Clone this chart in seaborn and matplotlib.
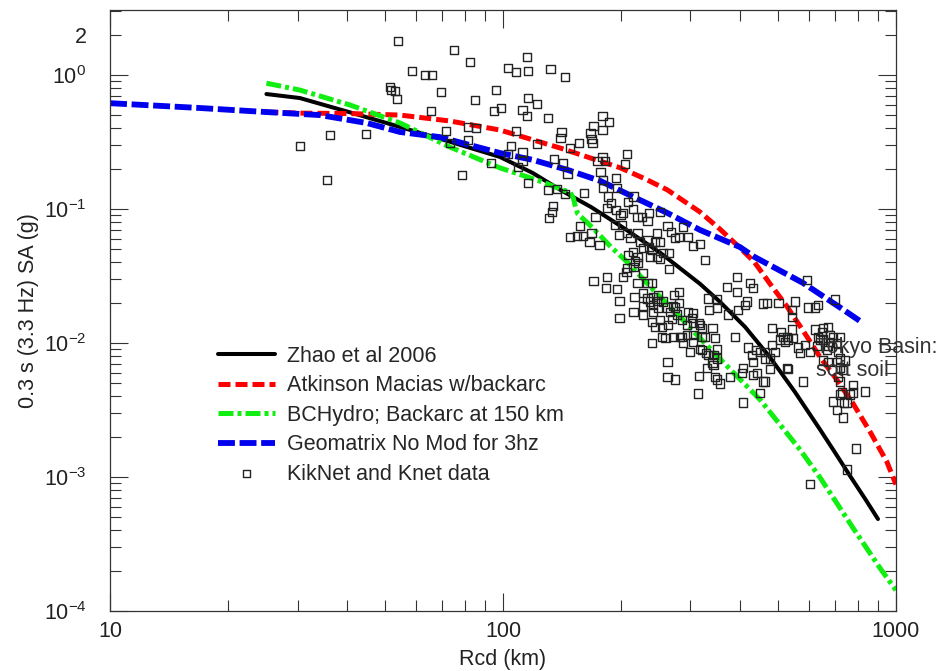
"""
Response spectra (0.3 s) vs rupture distance: GMPE curves against KikNet/Knet records.
Saves out.png.
"""

import matplotlib
matplotlib.use("Agg")
import matplotlib.pyplot as plt
from matplotlib.ticker import LogLocator, FuncFormatter, NullFormatter
import seaborn as sns

# ---- model curves (Rcd in km, SA in g) ----
zhao_rcd = [25, 30.4, 40.8, 54.7, 73.3, 98.2, 119, 140, 168, 199, 251, 317, 356, 413,
            478, 553, 641, 699, 764, 834, 900]
zhao_sa = [0.722, 0.674, 0.527, 0.410, 0.318, 0.245, 0.186, 0.139, 0.103, 0.0749,
           0.0473, 0.0277, 0.0204, 0.0132, 0.00783, 0.00432, 0.00226, 0.00153, 0.00102,
           0.00069, 0.000486]

atk_rcd = [25, 30.4, 40.8, 54.7, 73.3, 98.2, 140, 199, 230, 262, 317, 356, 401, 436, 478,
           529, 580, 641, 707, 778, 859, 948, 1000]
atk_sa = [0.530, 0.520, 0.516, 0.503, 0.454, 0.389, 0.285, 0.203, 0.168, 0.139, 0.0952,
          0.0711, 0.0513, 0.0403, 0.0277, 0.0186, 0.0124, 0.00785, 0.00533, 0.00353,
          0.00218, 0.00130, 0.00088]

bch_rcd = [25, 30.4, 40.8, 54.7, 73.3, 98.2, 124, 142, 148, 151, 153, 155, 164, 174, 188,
           207, 241, 282, 317, 356, 451, 570, 641, 778, 911, 1000]
bch_sa = [0.870, 0.773, 0.598, 0.439, 0.290, 0.203, 0.162, 0.139, 0.134, 0.121, 0.103,
          0.0920, 0.0790, 0.0664, 0.0523, 0.0403, 0.0250, 0.0157, 0.0109, 0.00765,
          0.00378, 0.00160, 0.00099, 0.000416, 0.000209, 0.000143]

geo_rcd = [10, 16.9, 24.9, 34.2, 45.0, 54.7, 69.2, 98.2, 119, 146, 177, 215, 262, 317,
           401, 436, 580, 721, 810]
geo_sa = [0.617, 0.568, 0.530, 0.503, 0.439, 0.376, 0.344, 0.262, 0.233, 0.196, 0.162,
          0.123, 0.0935, 0.0699, 0.0520, 0.0440, 0.0281, 0.0184, 0.0146]

# ---- recorded data (KikNet and Knet) ----
data_rcd = [
    30.4, 35.6, 36.3, 44.8, 51.6, 51.9, 53.1, 53.7, 54.1, 58.7, 63.3, 66.0, 65.6, 69.6,
    71.6, 73.3, 75.1, 78.7, 81.5, 81.5, 82.5, 84.9, 85.4, 93.2, 94.8, 96.0, 98.8, 103,
    103, 105, 108, 108, 109, 112, 112, 112, 115, 115, 116, 116, 116, 122, 122, 130, 130,
    131, 132, 133, 134, 135, 137, 140, 141, 142, 144, 144, 146, 148, 148, 154, 156, 157,
    160, 161, 166, 167, 168, 168, 169, 170, 170, 172, 174, 176, 177, 179, 179, 179, 180,
    180, 182, 183, 184, 184, 185, 186, 188, 193, 194, 194, 195, 195, 197, 198, 198,
    199, 201, 202, 202, 204, 207, 207, 206, 207, 208, 208, 211, 214, 214, 215, 215, 215,
    216, 217, 220, 220, 220, 220, 221, 223, 226, 227, 227, 227, 227, 227, 233, 233, 233,
    233, 235, 235, 237, 237, 239, 239, 239, 239, 241, 241, 241, 244, 244, 247, 247, 247,
    248, 248, 251, 251, 251, 251, 254, 254, 255, 255, 259, 262, 262, 262, 262, 263, 265,
    265, 266, 268, 269, 271, 271, 272, 274, 274, 274, 277, 280, 280, 280, 282, 285, 285,
    287, 287, 294, 294, 296, 296, 299, 303, 305, 305, 305, 305, 305, 313, 315, 315, 317,
    317, 317, 321, 321, 321, 327, 327, 329, 331, 333, 333, 335, 341, 341, 343, 343, 347,
    347, 351, 351, 351, 351, 351, 356, 371, 374, 378, 389, 394, 394, 396, 406, 408, 408,
    413, 418, 420, 425, 433, 430, 433, 433, 441, 443, 451, 451, 459, 459, 464, 464, 464,
    470, 478, 478, 484, 484, 492, 502, 507, 510, 516, 522, 528, 528, 531, 531, 543, 543,
    543, 546, 553, 563, 570, 580, 587, 594, 597, 604, 604, 622, 622, 629, 633, 633, 641,
    649, 652, 652, 652, 668, 672, 672, 672, 679, 679, 691, 691, 699, 707, 707, 707, 712,
    712, 721, 721, 721, 721, 721, 729, 734, 734, 738, 742, 751, 751, 764, 778, 778, 792,
    834,
]
data_sa = [
    0.296, 0.165, 0.357, 0.363, 0.814, 0.773, 0.760, 0.662, 1.79, 1.07, 1.00, 1.00, 0.540,
    0.747, 0.382, 0.312, 1.54, 0.180, 0.410, 0.328, 1.25, 0.651, 0.403, 0.221, 0.540,
    0.773, 0.568, 0.257, 1.13, 0.296, 1.05, 0.382, 0.206, 0.549, 0.267, 0.229, 1.36,
    0.494, 0.674, 1.07, 0.156, 0.608, 0.306, 0.478, 0.139, 0.0859, 1.11, 0.0952, 0.105,
    0.237, 0.141, 0.340, 0.376, 0.221, 0.966, 0.130, 0.183, 0.286, 0.0620, 0.0631, 0.312,
    0.0749, 0.0631, 0.132, 0.0569, 0.370, 0.334, 0.0664, 0.312, 0.417, 0.0292, 0.0874,
    0.229, 0.0541, 0.189, 0.494, 0.389, 0.245, 0.165, 0.144, 0.229, 0.0259, 0.102,
    0.0312, 0.124, 0.447, 0.111, 0.0762, 0.171, 0.0985, 0.144, 0.0254, 0.0642, 0.0207,
    0.0154, 0.0904, 0.0762, 0.0935, 0.0312, 0.217, 0.257, 0.0664, 0.0340, 0.0364, 0.113,
    0.0455, 0.0610, 0.100, 0.0479, 0.124, 0.0371, 0.0171, 0.0220, 0.0410, 0.0872,
    0.0664, 0.0440, 0.0281, 0.0396, 0.0569, 0.0874, 0.0513, 0.0334, 0.0237, 0.0187,
    0.0163, 0.0816, 0.0589, 0.0281, 0.0215, 0.0935, 0.0523, 0.0440, 0.0204, 0.0496,
    0.0281, 0.0144, 0.0100, 0.0220, 0.0193, 0.0171, 0.0569, 0.0132, 0.0664, 0.0440,
    0.0207, 0.0184, 0.0229, 0.0952, 0.0569, 0.0426, 0.0149, 0.0132, 0.0111, 0.0470,
    0.0204, 0.0109, 0.0749, 0.0184, 0.00555, 0.00725, 0.0137, 0.0470, 0.0358, 0.0171,
    0.0676, 0.0152, 0.0190, 0.0111, 0.0229, 0.00533, 0.0610, 0.0184, 0.0163, 0.0620,
    0.0241, 0.0200, 0.0111, 0.0149, 0.0111, 0.0737, 0.0100, 0.0137, 0.0115, 0.0620,
    0.0171, 0.00859, 0.0154, 0.0532, 0.0168, 0.0141, 0.0115, 0.0102, 0.00419, 0.0141,
    0.00570, 0.0550, 0.0137, 0.00907, 0.0130, 0.0111, 0.00891, 0.0418, 0.0111, 0.00845,
    0.00654, 0.0215, 0.00818, 0.0177, 0.0130, 0.00714, 0.00818, 0.00689, 0.0109,
    0.00560, 0.0211, 0.0184, 0.00907, 0.00765, 0.00533, 0.00498, 0.0262, 0.0163,
    0.00555, 0.0111, 0.0312, 0.0241, 0.0177, 0.00600, 0.00654, 0.00359, 0.0193, 0.0204,
    0.00925, 0.0281, 0.0259, 0.00818, 0.00726, 0.00580, 0.00891, 0.00600, 0.00859,
    0.00426, 0.0197, 0.00515, 0.00859, 0.00765, 0.00515, 0.0200, 0.00765, 0.00643,
    0.0130, 0.00971, 0.00859, 0.0200, 0.0106, 0.0121, 0.0111, 0.0102, 0.0111, 0.00654,
    0.0106, 0.00643, 0.0177, 0.0157, 0.0126, 0.0109, 0.0204, 0.00925, 0.00845, 0.00515,
    0.00971, 0.0297, 0.0184, 0.00859, 0.00089, 0.0184, 0.0126, 0.00954, 0.0193, 0.0111,
    0.0106, 0.0121, 0.0130, 0.0106, 0.00739, 0.00891, 0.0132, 0.00954, 0.00726, 0.0115,
    0.0102, 0.0111, 0.00366, 0.0211, 0.0100, 0.00726, 0.00318, 0.00859, 0.00555, 0.0111,
    0.00765, 0.00654, 0.00515, 0.00412, 0.00428, 0.00632, 0.00278, 0.00359, 0.00739,
    0.00359, 0.00114, 0.00412, 0.00489, 0.00428, 0.00163, 0.00436,
]

FS = 15.5
INK = "#222222"

sns.set_theme(style="ticks")
plt.rcParams["font.family"] = ["Liberation Sans", "DejaVu Sans"]
plt.rcParams["mathtext.fontset"] = "custom"
plt.rcParams["mathtext.rm"] = "Liberation Sans"
plt.rcParams["mathtext.it"] = "Liberation Sans:italic"

fig = plt.figure(figsize=(9.47, 6.71), dpi=100)
ax = fig.add_axes([0.1162, 0.0894, 0.8299, 0.8957])
ax.set_xscale("log")
ax.set_yscale("log")

sns.lineplot(x=zhao_rcd, y=zhao_sa, color="black", linewidth=2.9,
             label="Zhao et al 2006", ax=ax)
sns.lineplot(x=atk_rcd, y=atk_sa, color="#ff0000", linewidth=3.6,
             linestyle=(0, (2.4, 1.0)), dash_capstyle="butt",
             label="Atkinson Macias w/backarc", ax=ax)
sns.lineplot(x=bch_rcd, y=bch_sa, color="#11ee11", linewidth=3.6,
             linestyle=(0, (3.0, 0.8, 0.8, 0.8)), dash_capstyle="butt",
             label="BCHydro; Backarc at 150 km", ax=ax)
sns.lineplot(x=geo_rcd, y=geo_sa, color="#0000ee", linewidth=4.2,
             linestyle=(0, (2.9, 0.8)), dash_capstyle="butt",
             label="Geomatrix No Mod for 3hz", ax=ax)
sns.scatterplot(x=data_rcd, y=data_sa, marker="s", s=36, facecolor="none",
                edgecolor=INK, linewidth=1.0, label="KikNet and Knet data",
                zorder=4, ax=ax)

ax.set_xlim(10, 1000)
ax.set_ylim(1e-4, 3.06)

ax.xaxis.set_major_locator(LogLocator(base=10))
ax.xaxis.set_minor_locator(LogLocator(base=10, subs=range(2, 10)))
ax.xaxis.set_major_formatter(FuncFormatter(lambda v, _: f"{v:g}"))
ax.xaxis.set_minor_formatter(NullFormatter())
ax.yaxis.set_minor_locator(LogLocator(base=10, subs=range(2, 10), numticks=20))
ax.yaxis.set_minor_formatter(FuncFormatter(lambda v, _: "2" if abs(v - 2) < 1e-6 else ""))

for side in ["top", "right", "bottom", "left"]:
    ax.spines[side].set_visible(True)
    ax.spines[side].set_color("#333333")
    ax.spines[side].set_linewidth(0.9)

ax.tick_params(which="both", direction="in", top=True, right=True,
               color="#333333", width=0.8, labelsize=FS, labelcolor=INK)
ax.tick_params(which="major", length=13)
ax.tick_params(which="minor", length=8)
ax.tick_params(axis="y", which="both", pad=17)
ax.tick_params(axis="x", which="both", pad=7)

ax.set_xlabel("Rcd (km)", fontsize=FS, color=INK, labelpad=5)
ax.set_ylabel("0.3 s (3.3 Hz) SA (g)", fontsize=FS, color=INK, labelpad=3)

ax.text(625, 0.0076, "Tokyo Basin:\nsoft soil", fontsize=FS, color="#333333",
        ha="left", va="center", linespacing=1.15, clip_on=False, zorder=5)

handles, labels = ax.get_legend_handles_labels()
ax.legend(handles, labels, loc="upper left", bbox_to_anchor=(0.1374, 0.441),
          frameon=False, fontsize=FS, borderpad=0, borderaxespad=0,
          handlelength=2.65, handletextpad=0.56, labelspacing=0.39,
          markerscale=0.85)

fig.savefig("out.png", dpi=100)
